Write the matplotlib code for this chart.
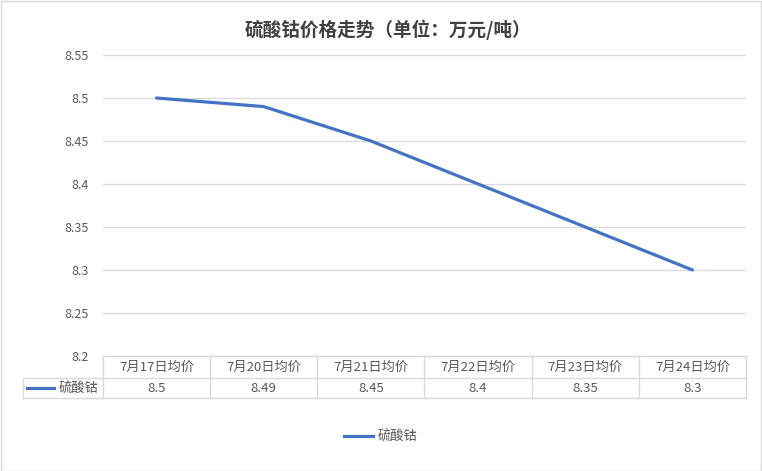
import matplotlib.pyplot as plt
from matplotlib.lines import Line2D
from matplotlib.patches import Rectangle

plt.rcParams['font.family'] = ['Noto Sans CJK SC', 'DejaVu Sans']

categories = ["7月17日均价", "7月20日均价", "7月21日均价", "7月22日均价", "7月23日均价", "7月24日均价"]
values = [8.5, 8.49, 8.45, 8.4, 8.35, 8.3]
series_name = "硫酸钴"
title = "硫酸钴价格走势（单位：万元/吨）"
yticks = [8.2, 8.25, 8.3, 8.35, 8.4, 8.45, 8.5, 8.55]

W, H = 762, 471
line_color = "#4472C4"
grid_color = "#D9D9D9"
text_color = "#595959"

fig = plt.figure(figsize=(W / 100, H / 100), dpi=100)
fig.patches.append(Rectangle((0.5 / W, 0.5 / H), 1 - 1.5 / W, 1 - 1.5 / H, transform=fig.transFigure,
                             fill=False, edgecolor=grid_color, lw=1))

left, right, top, bottom = 103, 746, 55, 356
ax = fig.add_axes([left / W, 1 - bottom / H, (right - left) / W, (bottom - top) / H])
n = len(categories)
x = list(range(n))
ax.plot(x, values, color=line_color, lw=2.3, solid_capstyle='round')
ax.set_xlim(-0.5, n - 0.5)
ax.set_ylim(8.2, 8.55)
ax.set_yticks(yticks)
ax.set_yticklabels([f"{v:g}" for v in yticks], fontsize=9, color=text_color)
ax.set_xticks([])
ax.tick_params(axis='y', length=0, pad=10)
ax.grid(axis='y', color=grid_color, lw=0.9)
ax.set_axisbelow(True)
for s in ax.spines.values():
    s.set_visible(False)

# data table under the plot
ph = bottom - top
r0, r1, r2 = 0, -22 / ph, -42 / ph
leg_x = -0.5 - (left - 23) / ((right - left) / n)
kw = dict(transform=ax.get_xaxis_transform(), color=grid_color, lw=1, clip_on=False)
ax.plot([-0.5, n - 0.5], [r0, r0], **kw)
ax.plot([leg_x, n - 0.5], [r1, r1], **kw)
ax.plot([leg_x, n - 0.5], [r2, r2], **kw)
ax.plot([leg_x, leg_x], [r1, r2], **kw)
for i in range(n + 1):
    ax.plot([i - 0.5, i - 0.5], [r0, r2], **kw)
for i, (c, v) in enumerate(zip(categories, values)):
    ax.text(i, (r0 + r1) / 2, c, transform=ax.get_xaxis_transform(), ha='center', va='center',
            fontsize=9.5, color=text_color)
    ax.text(i, (r1 + r2) / 2, f"{v:g}", transform=ax.get_xaxis_transform(), ha='center', va='center',
            fontsize=9.5, color=text_color)
fig.lines.append(Line2D([27 / W, 54 / W], [1 - 388 / H] * 2, color=line_color, lw=2.3,
                        transform=fig.transFigure))
fig.text(59 / W, 1 - 388 / H, series_name, ha='left', va='center', fontsize=9.5, color=text_color)

fig.text(388 / W, 1 - 30 / H, title, ha='center', va='center', fontsize=13.4, fontweight='bold',
         color="#404040")

# legend
fig.lines.append(Line2D([344 / W, 373 / W], [1 - 436 / H] * 2, color=line_color, lw=2.3,
                        transform=fig.transFigure))
fig.text(378 / W, 1 - 436 / H, series_name, ha='left', va='center', fontsize=9.5, color=text_color)

fig.savefig("out.png", dpi=100)
